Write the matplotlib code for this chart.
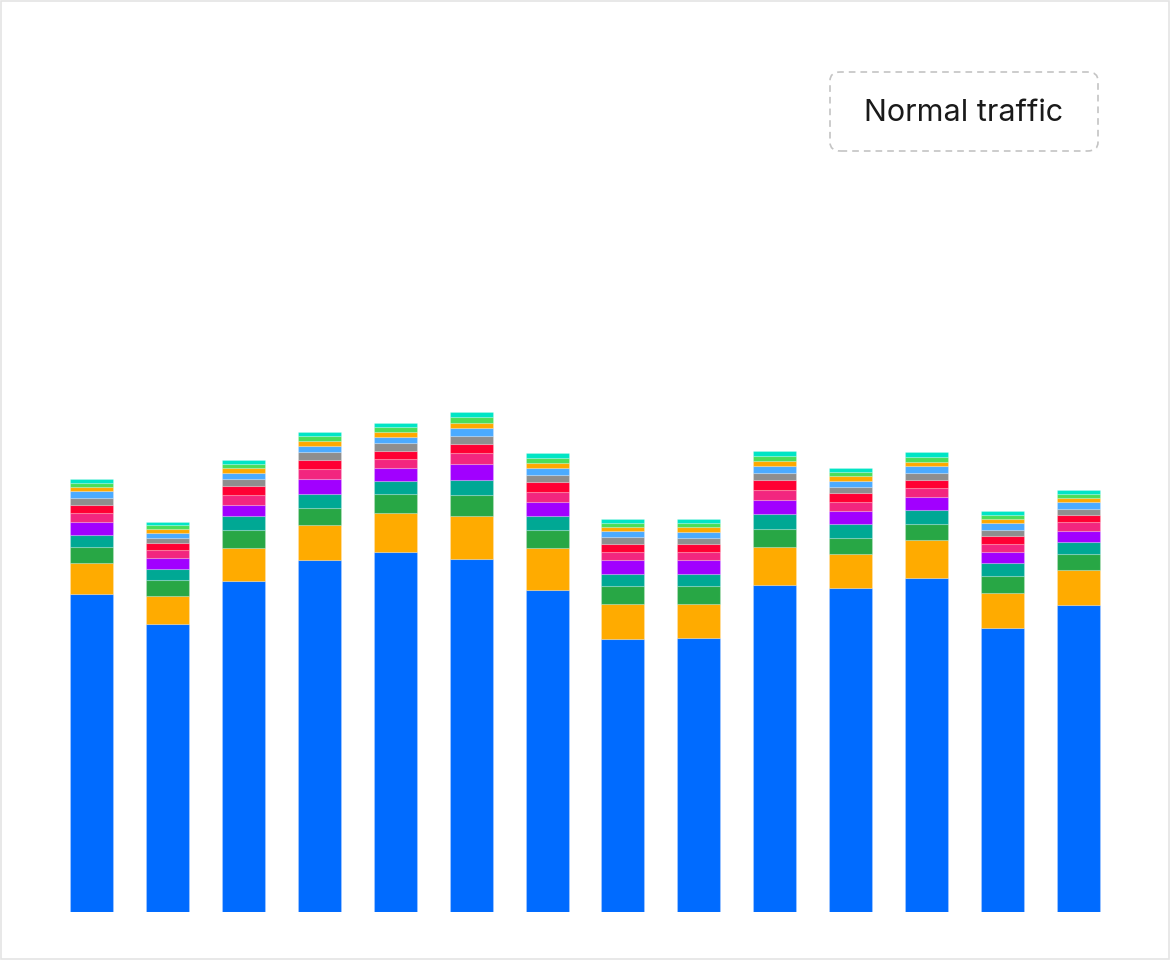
import matplotlib
matplotlib.use("Agg")
from matplotlib import pyplot as plt
from matplotlib.patches import FancyBboxPatch, Rectangle
import numpy as np

# one entry per bar, bottom segment first
series_names = ["s1", "s2", "s3", "s4", "s5", "s6", "s7", "s8", "s9", "s10", "s11", "s12"]
series_colors = ["#006BFF", "#FFAB00", "#28A745", "#00A894", "#A100FF", "#F2267F",
                 "#FF0033", "#8E8E8E", "#4BABFF", "#FFA800", "#4ADE5A", "#00E5C5"]

s1 = [317.7, 288.0, 331.0, 352.3, 360.0, 353.3, 322.0, 273.0, 274.3, 327.0, 324.3, 334.0, 284.3, 306.7]
s2 = [31.6, 28.0, 33.0, 34.4, 38.7, 42.7, 42.0, 35.3, 33.4, 38.0, 33.4, 37.7, 34.4, 35.0]
s3 = [15.4, 15.7, 18.0, 17.0, 19.0, 21.0, 17.7, 17.4, 18.0, 17.7, 16.6, 16.3, 17.3, 16.0]
s4 = [12.3, 11.0, 13.7, 14.6, 13.6, 15.3, 14.6, 12.6, 12.6, 15.0, 13.4, 13.7, 12.7, 12.0]
s5 = [13.3, 11.3, 11.6, 14.4, 13.0, 15.7, 13.4, 13.4, 13.4, 14.0, 13.6, 13.0, 11.6, 11.6]
s6 = [8.4, 7.7, 9.4, 10.0, 8.7, 10.7, 10.3, 8.3, 8.6, 10.3, 8.7, 9.6, 7.4, 8.4]
s7 = [8.6, 7.0, 9.0, 9.6, 8.3, 9.3, 9.7, 8.0, 7.7, 9.7, 9.3, 8.0, 8.6, 7.6]
s8 = [7.0, 5.3, 7.0, 7.4, 7.4, 8.0, 7.3, 6.7, 6.3, 7.3, 6.0, 6.7, 6.0, 6.0]
s9 = [6.4, 5.3, 6.6, 6.3, 6.6, 7.7, 7.3, 6.0, 6.0, 7.0, 6.0, 6.7, 6.4, 6.7]
s10 = [4.3, 3.4, 4.7, 5.3, 4.4, 5.6, 5.0, 4.3, 4.4, 5.0, 4.4, 4.6, 4.6, 4.0]
s11 = [4.0, 4.0, 4.3, 4.4, 5.0, 5.4, 5.0, 4.0, 4.0, 4.7, 4.3, 4.4, 4.0, 4.3]
s12 = [4.0, 3.6, 4.0, 4.3, 4.3, 5.3, 4.7, 4.3, 4.3, 5.3, 4.3, 5.3, 4.0, 4.0]

series = [s1, s2, s3, s4, s5, s6, s7, s8, s9, s10, s11, s12]
legend_label = "Normal traffic"

fig = plt.figure(figsize=(11.7, 9.6), dpi=100)
fig.patch.set_facecolor("white")

ax = fig.add_axes([0.0397, 0.05, 0.9206, 0.9])
x = np.arange(len(s1))
bottom = np.zeros(len(s1))
for name, vals, col in zip(series_names, series, series_colors):
    ax.bar(x, vals, bottom=bottom, width=0.567, color=col,
           edgecolor=(1, 1, 1, 0.2), linewidth=0.8, label=name)
    bottom += np.array(vals)

ax.set_xlim(-0.6, 13.6)
ax.set_ylim(0, 864)
ax.axis("off")

# faint frame around the whole card
fig.patches.append(Rectangle((0.001, 0.001), 0.998, 0.998, transform=fig.transFigure,
                             fill=False, edgecolor="#e4e4e4", linewidth=1.2))

# legend-like dashed box
fig.patches.append(FancyBboxPatch((830 / 1170, 1 - 151 / 960), 268 / 1170, 79 / 960,
                                  boxstyle="round,pad=0,rounding_size=0.009",
                                  transform=fig.transFigure, fill=False,
                                  edgecolor="#c4c4c4", linewidth=1.2, linestyle=(0, (4, 3))))
fig.text(964 / 1170, 1 - 113 / 960, legend_label, ha="center", va="center",
         fontsize=22, family=["Inter", "DejaVu Sans"], color="#1a1a1a")

fig.savefig("out.png", dpi=100)
